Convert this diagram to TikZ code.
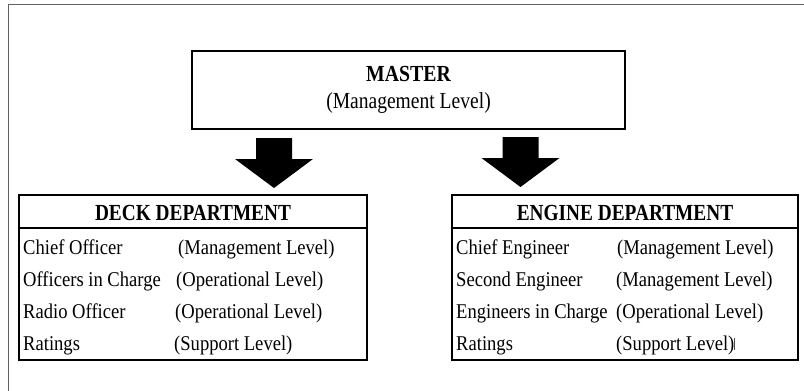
\documentclass[tikz,border=0pt]{standalone}
\usepackage{fontspec}
\setmainfont{Liberation Serif}
\newcommand\sqz[2]{\scalebox{#1}[1]{#2}}
\begin{document}
\begin{tikzpicture}[x=1pt,y=-1pt,
  boxline/.style={draw=black,line width=2.6pt},
  mtext/.style={inner sep=0pt,anchor=base,font=\fontsize{23}{27}\selectfont},
  htext/.style={inner sep=0pt,anchor=base,font=\fontsize{23}{27}\selectfont\bfseries},
  rtext/.style={inner sep=0pt,anchor=base west,font=\fontsize{21}{24}\selectfont},
  bigarrow/.style={fill=black,draw=none}]
\useasboundingbox (0,0) rectangle (804,391);
% outer frame (only left and top visible)
\draw[color=black!62,line width=1.5pt] (8.5,391) -- (8.5,4.7) -- (804,4.7);

% master box
\node[boxline,line width=2.1pt,minimum width=433pt,minimum height=78pt,inner sep=0pt] (master) at (408.5,90) {};
\node[htext] (mt1) at (408.5,81) {\sqz{0.86}{MASTER}};
\node[mtext] (mt2) at (408.5,108) {\sqz{0.85}{(Management Level)}};

% deck department
\node[boxline,minimum width=348pt,minimum height=165pt,inner sep=0pt] (deck) at (193,277.5) {};
\draw[line width=2.6pt] (deck.west |- 0,228) -- (deck.east |- 0,228);
\node[htext] (dh) at (193,220) {\sqz{0.84}{DECK DEPARTMENT}};
\node[rtext] (d1a) at (23,254) {\sqz{0.885}{Chief Officer}};
\node[rtext] (d1b) at (178,254) {\sqz{0.885}{(Management Level)}};
\node[rtext] (d2a) at (23,286) {\sqz{0.885}{Officers in Charge}};
\node[rtext] (d2b) at (176,286) {\sqz{0.885}{(Operational Level)}};
\node[rtext] (d3a) at (23,318) {\sqz{0.885}{Radio Officer}};
\node[rtext] (d3b) at (175,318) {\sqz{0.885}{(Operational Level)}};
\node[rtext] (d4a) at (23,350) {\sqz{0.885}{Ratings}};
\node[rtext] (d4b) at (174,350) {\sqz{0.885}{(Support Level)}};

% engine department
\node[boxline,minimum width=346pt,minimum height=165pt,inner sep=0pt] (engine) at (625,277.5) {};
\draw[line width=2.6pt] (engine.west |- 0,228) -- (engine.east |- 0,228);
\node[htext] (eh) at (625,220) {\sqz{0.84}{ENGINE DEPARTMENT}};
\node[rtext] (e1a) at (456,254) {\sqz{0.885}{Chief Engineer}};
\node[rtext] (e1b) at (617,254) {\sqz{0.885}{(Management Level)}};
\node[rtext] (e2a) at (456,286) {\sqz{0.885}{Second Engineer}};
\node[rtext] (e2b) at (616,286) {\sqz{0.885}{(Management Level)}};
\node[rtext] (e3a) at (456,318) {\sqz{0.885}{Engineers in Charge}};
\node[rtext] (e3b) at (616,318) {\sqz{0.885}{(Operational Level)}};
\node[rtext] (e4a) at (456,350) {\sqz{0.885}{Ratings}};
\node[rtext] (e4b) at (616,350) {\sqz{0.885}{(Support Level)}};
\coordinate (cur) at (734,338);
\draw[color=black!70,line width=0.8pt] (cur) -- ++(0,12);

% block arrows from master to departments
\coordinate (la) at (274,138);
\coordinate (ra) at (520.5,137);
\foreach \c in {la,ra}{
  \fill[bigarrow] (\c) ++(-18,0) -- ++(36,0) -- ++(0,21) -- ++(21,0)
    -- ++(-39,29) -- ++(-39,-29) -- ++(21,0) -- cycle;
}
\end{tikzpicture}
\end{document}
